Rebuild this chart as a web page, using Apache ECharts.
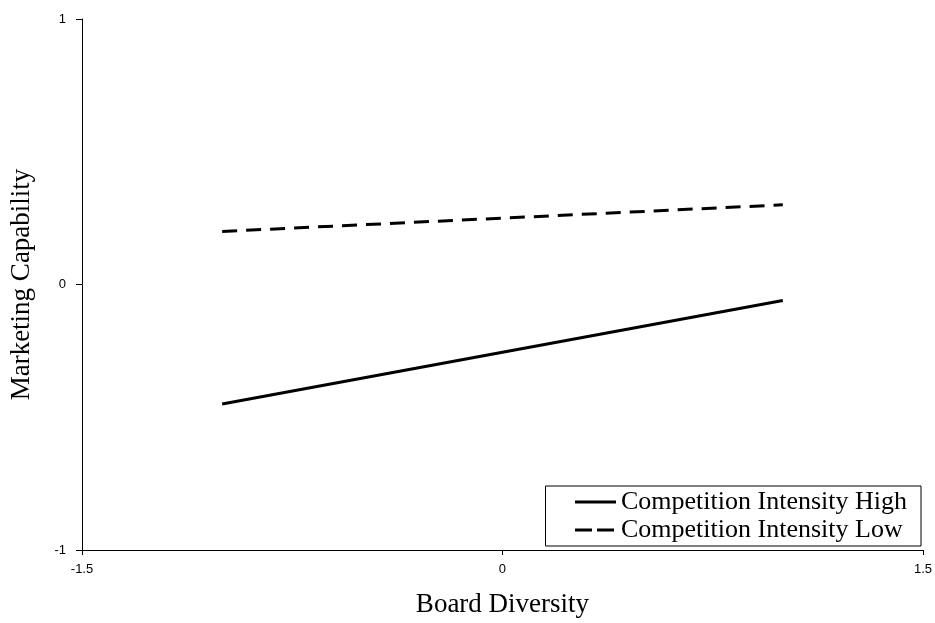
<!DOCTYPE html>
<html>
<head>
<meta charset="utf-8">
<script src="https://cdn.jsdelivr.net/npm/echarts@6/dist/echarts.min.js"></script>
<style>html,body{margin:0;padding:0;background:#fff}#chart{width:935px;height:623px}</style>
</head>
<body>
<div id="chart"></div>
<script>
// Simple slopes of Marketing Capability on Board Diversity
var boardDiversity = [-1, 1];
var highIntensity = [-0.45, -0.06];
var lowIntensity = [0.2, 0.3];
var xTicks = [-1.5, 0, 1.5];
var yTicks = [-1, 0, 1];
var seriesNames = ['Competition Intensity High', 'Competition Intensity Low'];

function pairs(xs, ys) { return xs.map(function (x, i) { return [x, ys[i]]; }); }

var serif = 'Liberation Serif';
var sans = 'Liberation Sans';

var chart = echarts.init(document.getElementById('chart'));
chart.setOption({
  animation: false,
  backgroundColor: '#fff',
  grid: { left: 81, right: 11, top: 19, bottom: 70 },
  legend: {
    orient: 'vertical',
    right: 14, bottom: 77,
    borderColor: '#000', borderWidth: 1, borderRadius: 0,
    padding: [3, 14, 3, 28],
    itemGap: 2,
    itemWidth: 41, itemHeight: 14,
    itemStyle: { opacity: 0 },
    textStyle: { fontFamily: serif, fontSize: 26, color: '#000', padding: [0, 0, 0, 0] },
    data: [
      { name: seriesNames[0], lineStyle: { color: '#000', width: 3, type: 'solid' } },
      { name: seriesNames[1], lineStyle: { color: '#000', width: 3, type: [17, 5] } }
    ]
  },
  xAxis: {
    type: 'value', min: -1.5, max: 1.5, interval: 1.5,
    name: 'Board Diversity', nameLocation: 'middle', nameGap: 41,
    nameTextStyle: { fontFamily: serif, fontSize: 27, color: '#000' },
    axisLine: { onZero: false, lineStyle: { color: '#000', width: 1 } },
    axisTick: { show: true, length: 5, lineStyle: { color: '#000' } },
    axisLabel: { fontFamily: sans, fontSize: 13, color: '#000', margin: 13,
      formatter: function (v) { return xTicks.indexOf(v) >= 0 ? String(v) : ''; } },
    splitLine: { show: false }
  },
  yAxis: {
    type: 'value', min: -1, max: 1, interval: 1,
    name: 'Marketing Capability', nameLocation: 'middle', nameGap: 47,
    nameTextStyle: { fontFamily: serif, fontSize: 27, color: '#000' },
    axisLine: { show: true, onZero: false, lineStyle: { color: '#000', width: 1 } },
    axisTick: { show: true, length: 6, lineStyle: { color: '#000' } },
    axisLabel: { fontFamily: sans, fontSize: 13, color: '#000', margin: 16,
      formatter: function (v) { return yTicks.indexOf(v) >= 0 ? String(v) : ''; } },
    splitLine: { show: false }
  },
  series: [
    {
      name: seriesNames[0], type: 'line', symbol: 'none',
      data: pairs(boardDiversity, highIntensity),
      lineStyle: { color: '#000', width: 3, type: 'solid' },
      itemStyle: { color: '#000' }
    },
    {
      name: seriesNames[1], type: 'line', symbol: 'none',
      data: pairs(boardDiversity, lowIntensity),
      lineStyle: { color: '#000', width: 3, type: [15, 9] },
      itemStyle: { color: '#000' }
    }
  ]
});
</script>
</body>
</html>
